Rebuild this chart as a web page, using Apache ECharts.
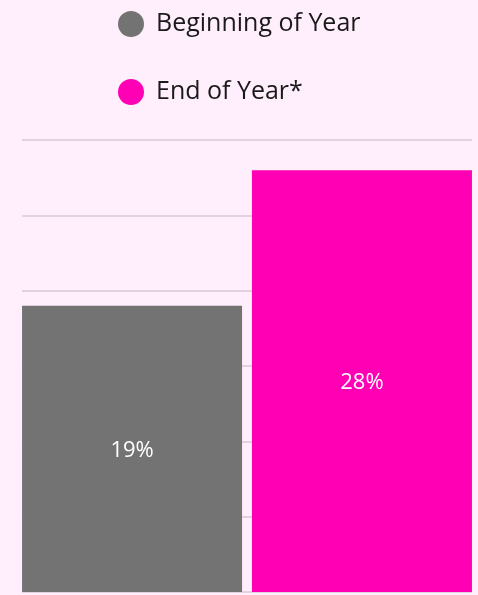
<!DOCTYPE html>
<html>
<head>
<meta charset="utf-8">
<script src="https://cdn.jsdelivr.net/npm/echarts@6/dist/echarts.min.js"></script>
<style>
  html, body { margin: 0; padding: 0; background: #ffeefb; }
  #chart { width: 478px; height: 595px; }
</style>
</head>
<body>
<div id="chart"></div>
<script>
const categories = ['Share'];
const seriesNames = ['Beginning of Year', 'End of Year*'];
const beginValues = [19];
const endValues = [28];
const yTicks = [0, 5, 10, 15, 20, 25, 30];

const chart = echarts.init(document.getElementById('chart'));

const labelStyle = {
    show: true,
    position: 'inside',
    offset: [0, 2],
    formatter: '{c}%',
    color: '#ffffff',
    fontFamily: 'Open Sans',
    fontSize: 22
};

chart.setOption({
    backgroundColor: '#ffeefb',
    animation: false,
    legend: {
        orient: 'vertical',
        left: 113,
        top: 6,
        itemWidth: 26,
        itemHeight: 26,
        itemGap: 42,
        icon: 'circle',
        textStyle: { fontFamily: 'Open Sans', fontSize: 25, color: '#1a1a1a', padding: [0, 0, 0, 7] },
        data: seriesNames
    },
    grid: { left: 22, right: 6, top: 140, bottom: 3 },
    xAxis: {
        type: 'category',
        data: categories,
        show: false
    },
    yAxis: {
        type: 'value',
        min: yTicks[0],
        max: yTicks[yTicks.length - 1],
        interval: 5,
        axisLabel: { show: false },
        axisLine: { show: false },
        axisTick: { show: false },
        splitLine: { lineStyle: { color: '#d9c8d9', width: 1.5 } }
    },
    series: [
        {
            name: seriesNames[0],
            type: 'bar',
            data: beginValues,
            barWidth: 220,
            barGap: '4.5%',
            itemStyle: { color: '#737373' },
            label: labelStyle
        },
        {
            name: seriesNames[1],
            type: 'bar',
            data: endValues,
            barWidth: 220,
            itemStyle: { color: '#ff00b4' },
            label: labelStyle
        }
    ]
});
</script>
</body>
</html>
